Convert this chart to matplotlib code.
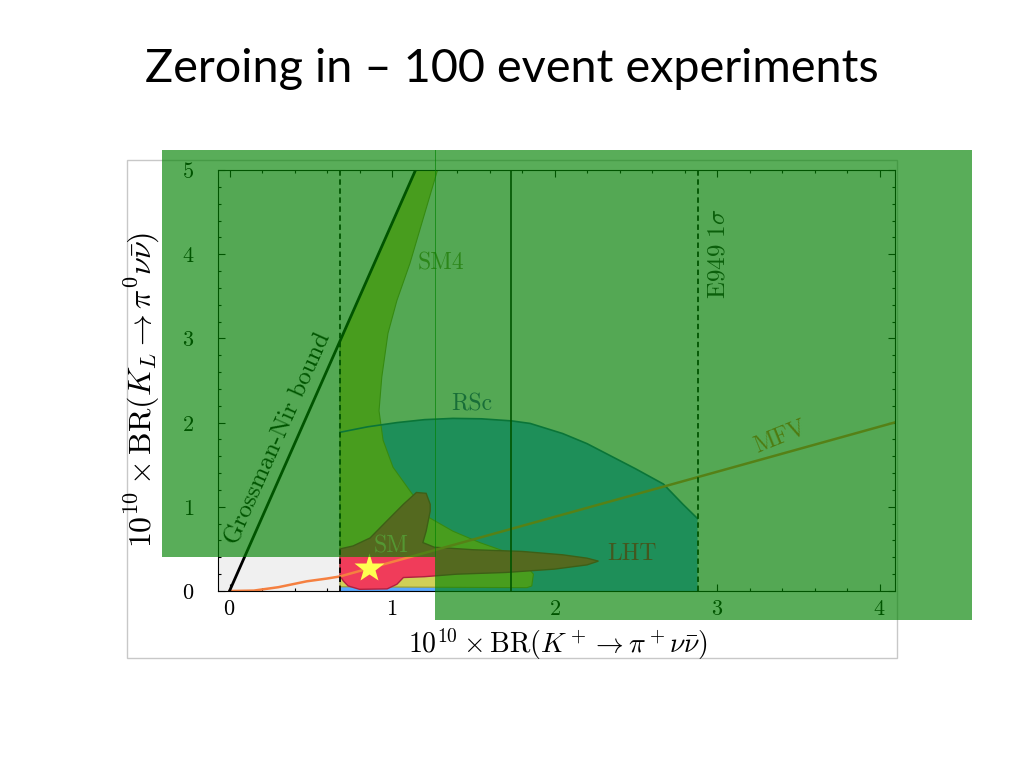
import matplotlib
matplotlib.use("Agg")
import matplotlib.pyplot as plt
from matplotlib.patches import Rectangle, Polygon
from matplotlib.ticker import MultipleLocator

plt.rcParams['mathtext.fontset'] = 'cm'

# ---------------- data ----------------
title = "Zeroing in – 100 event experiments"
x_ticks = [0, 1, 2, 3, 4]
y_ticks = [0, 1, 2, 3, 4, 5]
x_label = r'$10^{10}\times\mathrm{BR}(K^+\to\pi^+\nu\bar{\nu})$'
y_label = r'$10^{10}\times\mathrm{BR}(K_L\to\pi^0\nu\bar{\nu})$'

# Grossman-Nir bound line
gn_x = [0.0, 1.145]
gn_y = [0.0, 5.0]
# experimental bounds
e949_low = 0.68
e949_high = 2.88
e949_central = 1.73

# RSc region
rsc_x = [0.68, 0.85, 1.03, 1.2, 1.375, 1.55, 1.737, 1.85, 2.05, 2.2, 2.36, 2.5, 2.67, 2.79, 2.88, 2.88, 0.68]
rsc_y = [1.885, 1.95, 2.0, 2.035, 2.05, 2.045, 2.02, 1.99, 1.87, 1.75, 1.59, 1.45, 1.27, 1.03, 0.86, 0.0, 0.0]

# SM4 region
sm4_x = [0.68, 1.145, 1.28, 1.11, 1.03, 0.975, 0.937, 0.92, 0.945, 1.006, 1.11, 1.23, 1.375, 1.54, 1.68, 1.80, 1.87, 1.86, 1.83, 0.68]
sm4_y = [2.97, 5.0, 5.0, 3.89, 3.45, 3.06, 2.54, 2.14, 1.79, 1.47, 1.19, 0.87, 0.71, 0.575, 0.48, 0.36, 0.20, 0.06, 0.04, 0.05]

# SM + LHT region
lht_x = [0.68, 0.76, 0.865, 0.967, 1.07, 1.15, 1.21, 1.235, 1.235, 1.21, 1.19, 1.26, 1.5, 1.8, 2.05, 2.2, 2.27,
         2.2, 2.0, 1.7, 1.4, 1.2, 1.07, 1.03, 0.97, 0.8, 0.73, 0.7, 0.68]
lht_y = [0.50, 0.535, 0.63, 0.83, 1.03, 1.17, 1.16, 1.03, 0.95, 0.71, 0.575, 0.52, 0.49, 0.47, 0.43, 0.39, 0.355,
         0.31, 0.26, 0.22, 0.20, 0.17, 0.16, 0.08, 0.025, 0.02, 0.06, 0.12, 0.18]

# MFV curve
mfv_x = [0.0, 0.15, 0.3, 0.475, 0.6, 0.68, 4.09]
mfv_y = [0.0, 0.005, 0.045, 0.115, 0.148, 0.173, 2.0]

# SM point
sm_x = [0.86]
sm_y = [0.27]

# ---------------- figure ----------------
W, H = 1024, 768
fig = plt.figure(figsize=(10.24, 7.68), dpi=100)
fig.patch.set_facecolor('white')

def fx(px):
    return px / W

def fy(py):
    return (H - py) / H

# picture frame
fig.add_artist(Rectangle((fx(127), fy(658)), fx(897) - fx(127), fy(160) - fy(658),
                         transform=fig.transFigure, fill=False, ec='#c8c8c8', lw=1.0, zorder=-5))

ax = fig.add_axes([fx(218), fy(591), fx(895) - fx(218), fy(170) - fy(591)])
ax.set_facecolor('#f0f0f0')
ax.set_xlim(-0.0708, 4.095)
ax.set_ylim(0, 5)

ax.add_patch(Polygon(list(zip(rsc_x, rsc_y)), closed=True, fc='#58a8ff', ec='none', zorder=2))
ax.plot(rsc_x[:15], rsc_y[:15], color='#1f5fa0', lw=1.2, zorder=4)
ax.add_patch(Polygon(list(zip(sm4_x, sm4_y)), closed=True, fc='#d0d058', ec='#9a9a30', lw=0.8, zorder=3))
ax.add_patch(Polygon(list(zip(lht_x, lht_y)), closed=True, fc='#f03c5a', ec='#b02040', lw=1.0, zorder=5))

ax.plot(mfv_x, mfv_y, color='#f58040', lw=1.8, zorder=6)
ax.plot(gn_x, gn_y, color='black', lw=2.0, zorder=7)
ax.axvline(e949_low, color='black', lw=1.3, ls=(0, (3, 2)), zorder=7)
ax.axvline(e949_high, color='black', lw=1.3, ls=(0, (3, 2)), zorder=7)
ax.axvline(e949_central, color='black', lw=1.2, zorder=7)
ax.plot(sm_x, sm_y, marker='*', ms=22, color='#ffff50', mec='none', ls='none', zorder=9)

# labels in plot
cm = 'cmr10'
ax.text(1.30, 3.89, 'SM4', fontfamily=cm, fontsize=17, color='#80904a', ha='center', va='center', zorder=8)
ax.text(1.49, 2.21, 'RSc', fontfamily=cm, fontsize=17, color='#4649a0', ha='center', va='center', zorder=8)
ax.text(0.995, 0.535, 'SM', fontfamily=cm, fontsize=17, color='#f0c090', ha='center', va='center', zorder=8)
ax.text(2.477, 0.44, 'LHT', fontfamily=cm, fontsize=17, color='#be0a5a', ha='center', va='center', zorder=8)
ax.text(3.39, 1.83, 'MFV', fontfamily=cm, fontsize=17, color='#e07030', ha='center', va='center',
        rotation=22, rotation_mode='anchor', zorder=8)
ax.text(3.0, 4.01, r'$\mathrm{E949}\ 1\sigma$', fontsize=18, color='#202020', ha='center', va='center',
        rotation=90, zorder=8)
ax.text(0.30, 1.81, 'Grossman-Nir bound', fontfamily=cm, fontsize=18, color='black', ha='center', va='center',
        rotation=66, rotation_mode='anchor', zorder=8)

# ticks
ax.set_xticks(x_ticks)
ax.set_yticks(y_ticks)
ax.set_xticklabels([f'${v}$' for v in x_ticks])
ax.set_yticklabels([f'${v}$' for v in y_ticks])
ax.xaxis.set_minor_locator(MultipleLocator(0.2))
ax.yaxis.set_minor_locator(MultipleLocator(0.2))
ax.tick_params(which='both', direction='in', top=True, right=True, width=0.8, colors='black')
ax.tick_params(which='major', length=5)
ax.tick_params(which='minor', length=2.5)
ax.tick_params(axis='x', which='major', labelsize=16, pad=6)
ax.tick_params(axis='y', which='major', labelsize=16, pad=17)
for s in ax.spines.values():
    s.set_linewidth(0.8)
    s.set_zorder(10)

fig.text(fx(557.5), fy(644), x_label, fontsize=20, ha='center', va='center')
fig.text(fx(142), fy(390), y_label, fontsize=23, ha='center', va='center', rotation=90)

# green overlays
ov = (0, 130 / 255, 0)
fig.add_artist(Rectangle((fx(162), fy(557)), fx(436) - fx(162), fy(150) - fy(557),
                         transform=fig.transFigure, fc=ov, alpha=0.65, ec='none', zorder=20))
fig.add_artist(Rectangle((fx(435), fy(620)), fx(972) - fx(435), fy(150) - fy(620),
                         transform=fig.transFigure, fc=ov, alpha=0.65, ec='none', zorder=20))

fig.text(0.5, fy(81.7), title, fontsize=33.7, family='Lato', ha='center', va='baseline', color='black')

fig.savefig('out.png', dpi=100, facecolor='white')
